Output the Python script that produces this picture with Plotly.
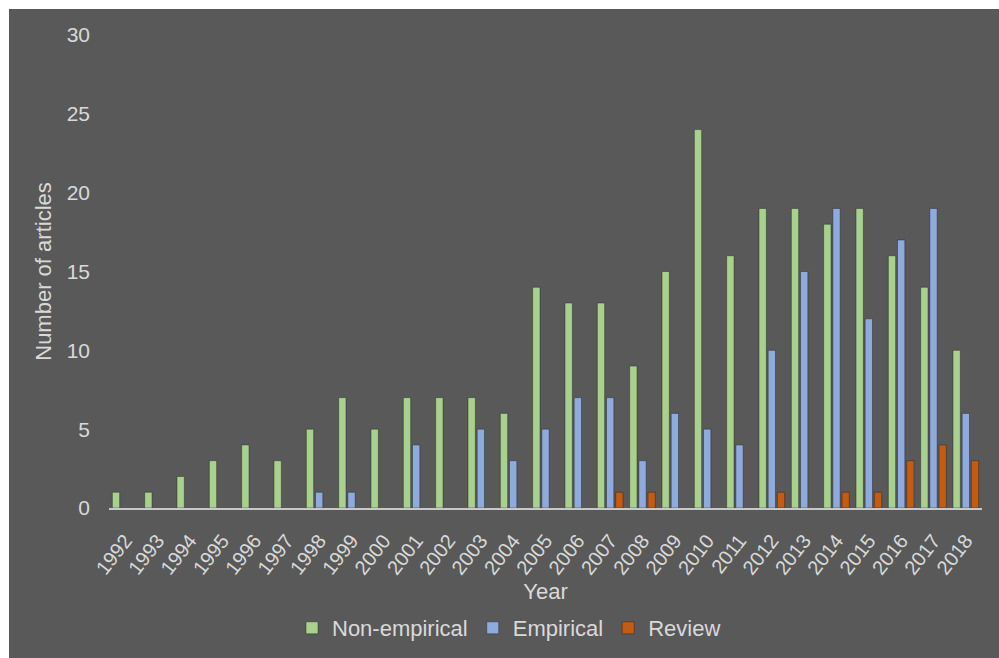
import plotly.graph_objects as go

# Articles per year, split by study type
years = [str(y) for y in range(1992, 2019)]
non_empirical = [1, 1, 2, 3, 4, 3, 5, 7, 5, 7, 7, 7, 6, 14, 13, 13, 9, 15, 24, 16, 19, 19, 18, 19, 16, 14, 10]
empirical = [0, 0, 0, 0, 0, 0, 1, 1, 0, 4, 0, 5, 3, 5, 7, 7, 3, 6, 5, 4, 10, 15, 19, 12, 17, 19, 6]
review = [0, 0, 0, 0, 0, 0, 0, 0, 0, 0, 0, 0, 0, 0, 0, 1, 1, 0, 0, 0, 1, 0, 1, 1, 3, 4, 3]
y_ticks = [0, 5, 10, 15, 20, 25, 30]

BG = "#595959"
TXT = "#D9D9D9"
FONT = "Liberation Sans, Arial, sans-serif"

W, H = 999, 658
ML, MR, MT, MB = 109, 17, 35, 150


def nz(vals):
    # zero-height bars are left out so no outline shows on the baseline
    return [v if v else None for v in vals]


series = [
    ("Non-empirical", non_empirical, "#A9D18E"),
    ("Empirical", empirical, "#8FAADC"),
    ("Review", review, "#C55A11"),
]

fig = go.Figure()
for name, vals, col in series:
    fig.add_trace(go.Bar(
        x=years, y=nz(vals), name=name,
        marker=dict(color=col, line=dict(color="rgba(35,35,35,0.45)", width=1)),
    ))

# dark chart area with a thin white edge on the top and left
pw, ph = W - ML - MR, H - MT - MB
x0 = (9 - ML) / pw
x1 = (W - ML) / pw
y1 = (H - MB - 9) / ph
y0 = (H - MB - H) / ph
fig.add_shape(type="rect", xref="paper", yref="paper", x0=x0, x1=x1, y0=y0, y1=y1,
              fillcolor=BG, line=dict(width=0), layer="below")

fig.update_layout(
    width=W, height=H,
    margin=dict(l=ML, r=MR, t=MT, b=MB, autoexpand=False),
    paper_bgcolor="white", plot_bgcolor="rgba(0,0,0,0)",
    barmode="group", bargap=0.15, bargroupgap=0.2,
    font=dict(family=FONT, color=TXT, size=21),
    showlegend=True,
    legend=dict(orientation="h", x=(509 - ML) / pw, xanchor="center",
                y=(H - MB - 628) / ph, yanchor="middle",
                font=dict(size=22, color=TXT), bgcolor="rgba(0,0,0,0)"),
)
fig.update_xaxes(
    type="category", tickangle=-52, showgrid=False,
    showline=True, linecolor="#C8C8C8", linewidth=2,
    ticks="", ticklabelstandoff=11,
    tickfont=dict(size=20, color=TXT),
    title=dict(text="Year", font=dict(size=22, color=TXT), standoff=4),
)
fig.update_yaxes(
    range=[0, 30], tickvals=y_ticks, showgrid=False, zeroline=False,
    showline=False, ticks="", ticklabelstandoff=18,
    tickfont=dict(size=21, color=TXT),
    title=dict(text="Number of articles", font=dict(size=22, color=TXT), standoff=8),
)

fig.write_html("out.html")
